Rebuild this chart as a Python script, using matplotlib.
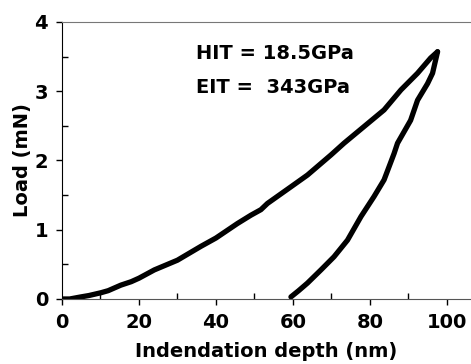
"""
Nanoindentation load-depth curve (loading and unloading branches).
"""
import matplotlib.pyplot as plt
from matplotlib.ticker import MultipleLocator

plt.rcParams['font.family'] = ['DejaVu Sans']
plt.rcParams['font.weight'] = 'bold'

# loading branch, depth (nm) vs load (mN)
LOAD_DEPTH = [0, 2, 4.9, 7, 10.1, 12, 15.3, 18, 20, 24, 30, 36.1, 40, 45.6,
              49.1, 51.7, 53.4, 59.5, 63.8, 69.9, 73.3, 78.5, 83.7, 88.1,
              92.4, 95.8, 97.6]
LOAD_FORCE = [0, 0.0, 0.03, 0.05, 0.09, 0.12, 0.2, 0.25, 0.3, 0.42, 0.56,
              0.76, 0.88, 1.09, 1.21, 1.29, 1.38, 1.62, 1.79, 2.08, 2.25,
              2.49, 2.73, 3.02, 3.26, 3.48, 3.57]

# unloading branch
UNLOAD_DEPTH = [97.6, 96.3, 95.0, 92.4, 90.6, 87.2, 86.3, 83.7, 81.1, 77.7,
                74.2, 70.7, 67.3, 63.8, 61.5, 59.5]
UNLOAD_FORCE = [3.57, 3.26, 3.11, 2.87, 2.58, 2.25, 2.10, 1.72, 1.48, 1.19,
                0.85, 0.61, 0.42, 0.23, 0.12, 0.03]

ANNOTATIONS = ["HIT = 18.5GPa", "EIT =  343GPa"]

fig = plt.figure(figsize=(4.71, 3.64), dpi=100)
ax = fig.add_axes([0.1316, 0.1786, 0.866, 0.761])

ax.plot(LOAD_DEPTH, LOAD_FORCE, color='black', lw=3.8, solid_capstyle='round')
ax.plot(UNLOAD_DEPTH, UNLOAD_FORCE, color='black', lw=3.8, solid_capstyle='round')

ax.set_xlim(0, 106)
ax.set_ylim(0, 4)
ax.xaxis.set_major_locator(MultipleLocator(20))
ax.xaxis.set_minor_locator(MultipleLocator(10))
ax.yaxis.set_major_locator(MultipleLocator(1))
ax.yaxis.set_minor_locator(MultipleLocator(0.5))
ax.tick_params(which='major', direction='out', length=4, width=1,
               labelsize=14, pad=6)
ax.tick_params(which='minor', direction='in', length=4, width=1)
ax.spines['right'].set_visible(False)
ax.spines['bottom'].set_color('#555555')
ax.spines['top'].set_color('#777777')

ax.set_xlabel("Indendation depth (nm)", fontsize=14, fontweight='bold',
              labelpad=7)
ax.set_ylabel("Load (mN)", fontsize=14, fontweight='bold', labelpad=2)

ax.text(34.8, 3.47, ANNOTATIONS[0], fontsize=14, fontweight='bold')
ax.text(34.8, 2.97, ANNOTATIONS[1], fontsize=14, fontweight='bold')

plt.savefig('out.png', dpi=100)
